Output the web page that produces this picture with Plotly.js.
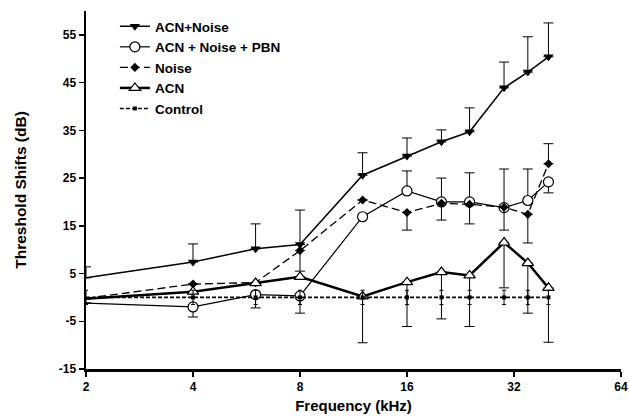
<!DOCTYPE html>
<html>
<head>
<meta charset="utf-8">
<script src="https://cdn.plot.ly/plotly-3.0.1.min.js"></script>
<style>html,body{margin:0;padding:0;background:#fff;}#chart{width:629px;height:417px;}</style>
</head>
<body>
<div id="chart"></div>
<script>
var freq = [2, 4, 6, 8, 12, 16, 20, 24, 30, 35, 40];

var acnNoise = [4.1, 7.4, 10.2, 11.1, 25.6, 29.6, 32.6, 34.7, 43.9, 47.2, 50.4];
var acnNoiseErrUp = [2.3, 3.8, 5.2, 7.2, 4.7, 3.8, 2.5, 5.0, 5.4, 7.4, 7.1];

var pbn = [-1.2, -2.0, 0.6, 0.3, 16.9, 22.3, 20.0, 20.0, 18.8, 20.3, 24.2];
var pbnErrUp = [0, 0, 0, 0, 0, 4.2, 5.0, 6.1, 8.1, 6.6, 0];
var pbnErrDown = [0, 2.1, 2.8, 3.6, 0, 0, 0, 0, 0, 0, 2.3];

var noise = [-0.2, 2.8, 3.1, 9.8, 20.4, 17.8, 19.7, 19.5, 18.9, 17.4, 28.0];
var noiseErrUp = [0, 0, 0, 0, 0, 0, 0, 0, 0, 0, 4.2];
var noiseErrDown = [0, 0, 0, 4.3, 0, 3.7, 3.5, 4.1, 4.8, 6.0, 0];

var acn = [-0.3, 1.2, 3.0, 4.3, 0.2, 3.2, 5.3, 4.6, 11.5, 7.2, 2.0];
var acnErrDown = [0, 0, 0, 0, 9.7, 9.3, 9.8, 10.7, 9.5, 10.5, 11.4];

var control = [0, 0, 0, 0, 0, 0, 0, 0, 0, 0, 0];
var controlErr = [1.5, 1.5, 1.5, 1.5, 1.5, 1.5, 1.5, 1.5, 1.5, 1.5, 1.5];

var xTicks = [2, 4, 8, 16, 32, 64];
var yTicks = [-15, -5, 5, 15, 25, 35, 45, 55];

var names = ['ACN+Noise', 'ACN + Noise + PBN', 'Noise', 'ACN', 'Control'];

function errSpec(up, down, w) {
  return {type: 'data', symmetric: false, array: up, arrayminus: down,
          color: '#000', thickness: 1, width: w};
}
function zeros(a) { return a.map(function(){ return 0; }); }

var traces = [
  {x: freq, y: acnNoise, name: '<b>' + names[0] + '</b>', mode: 'lines+markers',
   line: {color: '#000', width: 1.5},
   marker: {symbol: 'triangle-down', size: 9, color: '#000'},
   error_y: errSpec(acnNoiseErrUp, zeros(acnNoise), 5)},
  {x: freq, y: pbn, name: '<b>' + names[1] + '</b>', mode: 'lines+markers',
   line: {color: '#000', width: 1.2},
   marker: {symbol: 'circle', size: 10, color: '#fff', line: {color: '#000', width: 1.2}},
   error_y: errSpec(pbnErrUp, pbnErrDown, 5)},
  {x: freq, y: noise, name: '<b>' + names[2] + '</b>', mode: 'lines+markers',
   line: {color: '#000', width: 1.3, dash: '8px,4px'},
   marker: {symbol: 'diamond', size: 7, color: '#000'},
   error_y: errSpec(noiseErrUp, noiseErrDown, 5)},
  {x: freq, y: acn, name: '<b>' + names[3] + '</b>', mode: 'lines+markers',
   line: {color: '#000', width: 2.5},
   marker: {symbol: 'triangle-up', size: 10, color: '#fff', line: {color: '#000', width: 1.2}},
   error_y: errSpec(zeros(acn), acnErrDown, 5)},
  {x: freq, y: control, name: '<b>' + names[4] + '</b>', mode: 'lines+markers',
   line: {color: '#000', width: 1.7, dash: '4px,2px'},
   marker: {symbol: 'square', size: 4, color: '#000'},
   error_y: errSpec(controlErr, controlErr, 2)}
];
traces.forEach(function(t, i){ t.cliponaxis = false; t.legendgroup = 'g' + i; });

var fontFam = 'Liberation Sans, Arial, Helvetica, sans-serif';

var layout = {
  width: 629, height: 417,
  margin: {l: 86, r: 8, t: 11, b: 48},
  paper_bgcolor: '#fff', plot_bgcolor: '#fff',
  font: {family: fontFam, color: '#000', size: 12},
  showlegend: true,
  legend: {x: 0.054, y: 1.0, xanchor: 'left', yanchor: 'top', bgcolor: 'rgba(0,0,0,0)',
           font: {family: fontFam, size: 13.5, color: '#000'}, itemwidth: 30,
           traceorder: 'grouped', tracegroupgap: 0},
  xaxis: {
    type: 'log', range: [Math.log10(2), Math.log10(64)],
    tickvals: xTicks, ticktext: xTicks.map(function(v){return '<b>' + v + '</b>';}),
    ticks: 'outside', ticklen: 5, tickwidth: 1.5, tickcolor: '#000',
    showline: true, linewidth: 2.5, linecolor: '#000',
    showgrid: false, zeroline: false,
    tickfont: {family: fontFam, size: 12, color: '#000'},
    title: {text: '<b>Frequency (kHz)</b>', font: {family: fontFam, size: 15, color: '#000'}, standoff: 8}
  },
  yaxis: {
    range: [-15, 60],
    tickvals: yTicks, ticktext: yTicks.map(function(v){return '<b>' + v + '</b>';}),
    ticks: 'outside', ticklen: 5, tickwidth: 1.5, tickcolor: '#000',
    showline: true, linewidth: 2.5, linecolor: '#000',
    showgrid: false, zeroline: false,
    tickfont: {family: fontFam, size: 12, color: '#000'},
    title: {text: '<b>Threshold Shifts (dB)</b>', font: {family: fontFam, size: 15.5, color: '#000'}, standoff: 29}
  }
};

Plotly.newPlot('chart', traces, layout, {displayModeBar: false, staticPlot: true});
</script>
</body>
</html>
